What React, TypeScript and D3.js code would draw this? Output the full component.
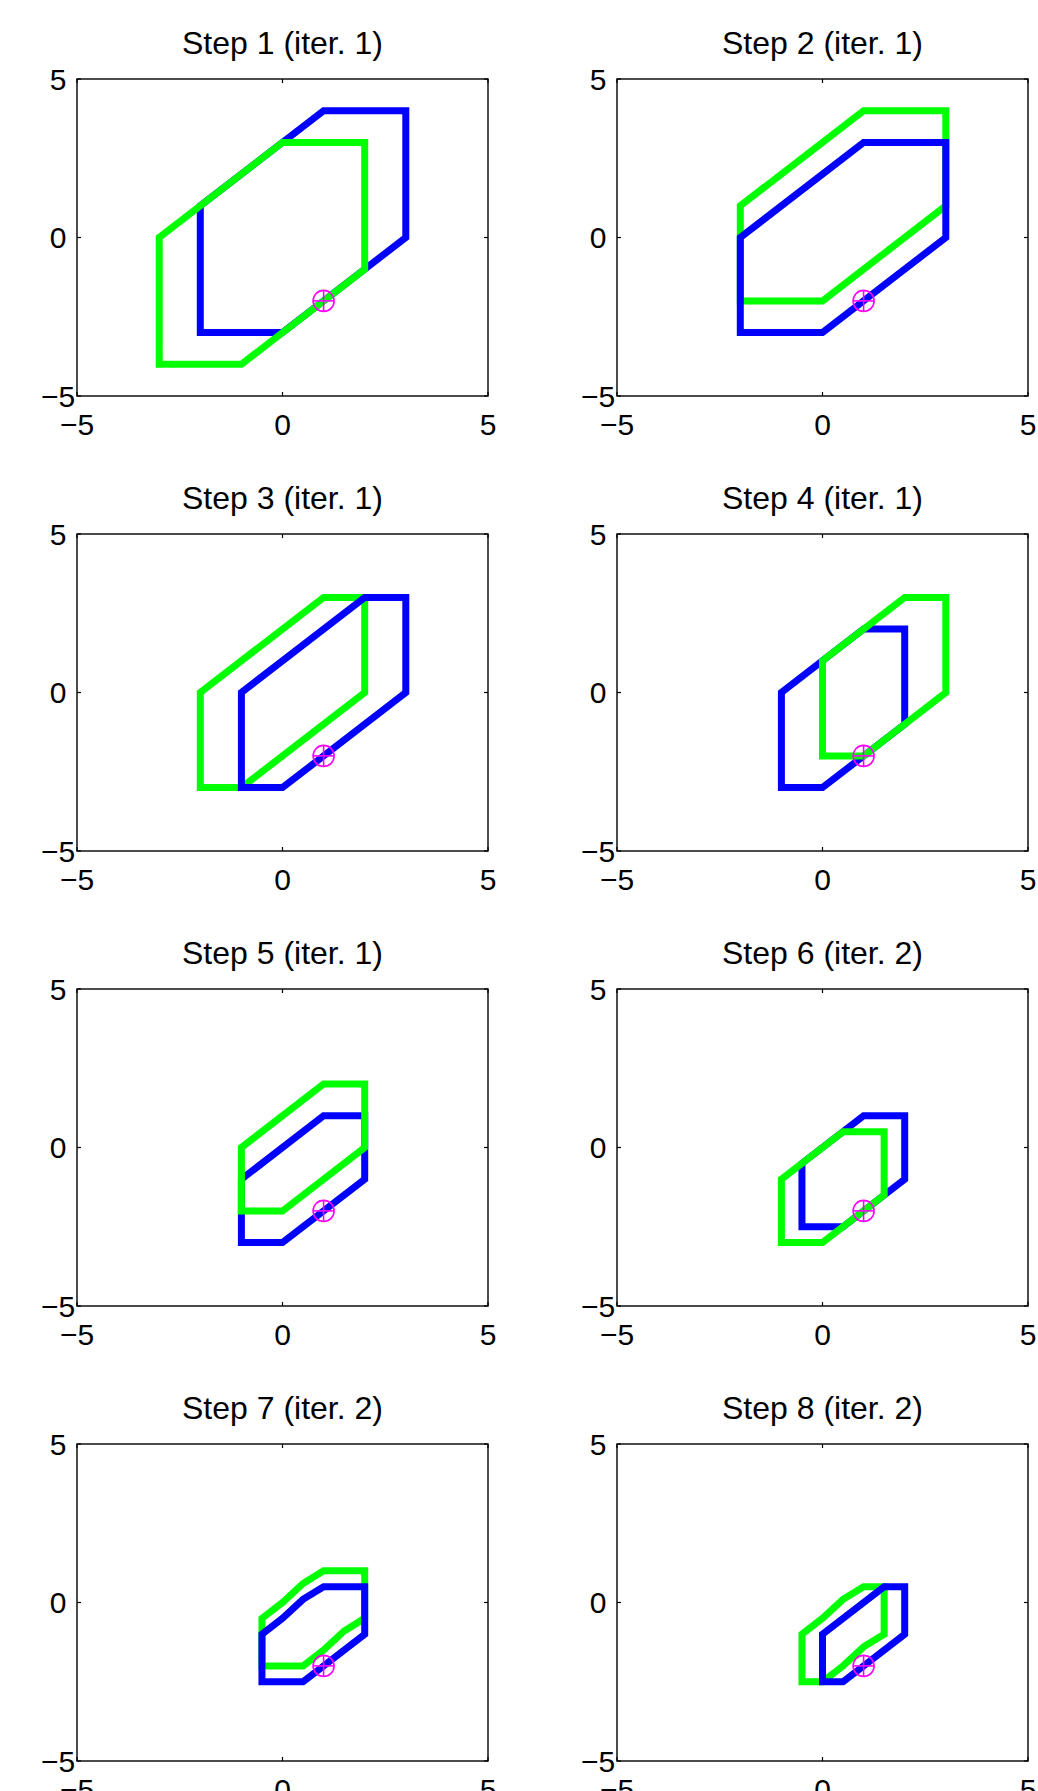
import React from "react";
import * as d3 from "d3";

// one title per subplot
const stepTitles = [
  "Step 1 (iter. 1)",
  "Step 2 (iter. 1)",
  "Step 3 (iter. 1)",
  "Step 4 (iter. 1)",
  "Step 5 (iter. 1)",
  "Step 6 (iter. 2)",
  "Step 7 (iter. 2)",
  "Step 8 (iter. 2)",
];

// blue polygon of every step (x, y vertices)
const blueShapes = [
  [[-2, -3], [0, -3], [3, 0], [3, 4], [1, 4], [-2, 1]],
  [[-2, -3], [0, -3], [3, 0], [3, 3], [1, 3], [-2, 0]],
  [[-1, -3], [0, -3], [3, 0], [3, 3], [2, 3], [-1, 0]],
  [[-1, -3], [0, -3], [2, -1], [2, 2], [1, 2], [-1, 0]],
  [[-1, -3], [0, -3], [2, -1], [2, 1], [1, 1], [-1, -1]],
  [[-0.5, -2.5], [0.5, -2.5], [2, -1], [2, 1], [1, 1], [-0.5, -0.5]],
  [[-0.5, -2.5], [0.5, -2.5], [2, -1], [2, 0.5], [1, 0.5], [0.5, 0.1], [0, -0.5], [-0.5, -1]],
  [[0, -2.5], [0.5, -2.5], [2, -1], [2, 0.5], [1.5, 0.5], [0, -1]],
];

// green polygon of every step
const greenShapes = [
  [[-3, -4], [-1, -4], [2, -1], [2, 3], [0, 3], [-3, 0]],
  [[-2, -2], [0, -2], [3, 1], [3, 4], [1, 4], [-2, 1]],
  [[-2, -3], [-1, -3], [2, 0], [2, 3], [1, 3], [-2, 0]],
  [[0, -2], [1, -2], [3, 0], [3, 3], [2, 3], [0, 1]],
  [[-1, -2], [0, -2], [2, 0], [2, 2], [1, 2], [-1, 0]],
  [[-1, -3], [0, -3], [1.5, -1.5], [1.5, 0.5], [0.5, 0.5], [-1, -1]],
  [[-0.5, -2], [0.5, -2], [1, -1.5], [1.5, -0.9], [2, -0.5], [2, 1], [1, 1], [0.5, 0.6], [0, 0], [-0.5, -0.5]],
  [[-0.5, -2.5], [0, -2.5], [0.5, -2], [1, -1.4], [1.5, -1], [1.5, 0.5], [1, 0.5], [0.5, 0.1], [0, -0.5], [-0.5, -1]],
];

// which outline was drawn last
const topColor = ["green", "blue", "blue", "green", "green", "green", "blue", "blue"];

const targetPoint = [1, -2];
const axisTicks = [-5, 0, 5];

const W = 1038;
const H = 1791;
const plotW = 411;
const plotH = 317;
const colX = [77, 617];
const rowY = [79, 534, 989, 1444];

const BLUE = "#0000ff";
const GREEN = "#00ff00";
const MAGENTA = "#ff00ff";
const FONT = "'Liberation Sans', Arial, Helvetica, sans-serif";

const x = d3.scaleLinear().domain([-5, 5]).range([0, plotW]);
const y = d3.scaleLinear().domain([-5, 5]).range([plotH, 0]);

const outline = d3
  .line<number[]>()
  .x((d) => x(d[0]))
  .y((d) => y(d[1]))
  .curve(d3.curveLinearClosed);

const fmt = (v: number) => (v < 0 ? "\u2212" + Math.abs(v) : String(v));

function Panel({ i }: { i: number }) {
  const tx = colX[i % 2];
  const ty = rowY[Math.floor(i / 2)];
  const layers =
    topColor[i] === "green"
      ? [
          [BLUE, blueShapes[i]],
          [GREEN, greenShapes[i]],
        ]
      : [
          [GREEN, greenShapes[i]],
          [BLUE, blueShapes[i]],
        ];
  const mx = x(targetPoint[0]);
  const my = y(targetPoint[1]);
  const r = 10.5;

  return (
    <g transform={`translate(${tx},${ty})`}>
      <text x={plotW / 2} y={-25} textAnchor="middle" fontSize={32} fontFamily={FONT}>
        {stepTitles[i]}
      </text>

      {layers.map(([color, pts], k) => (
        <path
          key={k}
          d={outline(pts as number[][]) || ""}
          fill="none"
          stroke={color as string}
          strokeWidth={7}
          strokeLinejoin="miter"
        />
      ))}

      {/* target marker: circle + plus */}
      <g stroke={MAGENTA} strokeWidth={1.6} fill="none">
        <circle cx={mx} cy={my} r={r} />
        <line x1={mx - r} x2={mx + r} y1={my} y2={my} />
        <line x1={mx} x2={mx} y1={my - r} y2={my + r} />
      </g>

      <rect x={0} y={0} width={plotW} height={plotH} fill="none" stroke="#000" strokeWidth={1.4} />

      {axisTicks.map((t) => (
        <g key={"t" + t} stroke="#000" strokeWidth={1.2}>
          <line x1={x(t)} x2={x(t)} y1={plotH} y2={plotH - 4} />
          <line x1={x(t)} x2={x(t)} y1={0} y2={4} />
          <line x1={0} x2={4} y1={y(t)} y2={y(t)} />
          <line x1={plotW} x2={plotW - 4} y1={y(t)} y2={y(t)} />
        </g>
      ))}

      {axisTicks.map((t) => (
        <text key={"xl" + t} x={x(t)} y={plotH + 39} textAnchor="middle" fontSize={30} fontFamily={FONT}>
          {fmt(t)}
        </text>
      ))}
      {axisTicks.map((t) => (
        <text key={"yl" + t} x={-19} y={y(t) + 10.7} textAnchor="middle" fontSize={30} fontFamily={FONT}>
          {fmt(t)}
        </text>
      ))}
    </g>
  );
}

export default function App() {
  return (
    <svg
      width={W}
      height={H}
      style={{ position: "absolute", left: 0, top: 0, background: "#fff" }}
    >
      <rect width={W} height={H} fill="#fff" />
      {stepTitles.map((_, i) => (
        <Panel key={i} i={i} />
      ))}
    </svg>
  );
}
